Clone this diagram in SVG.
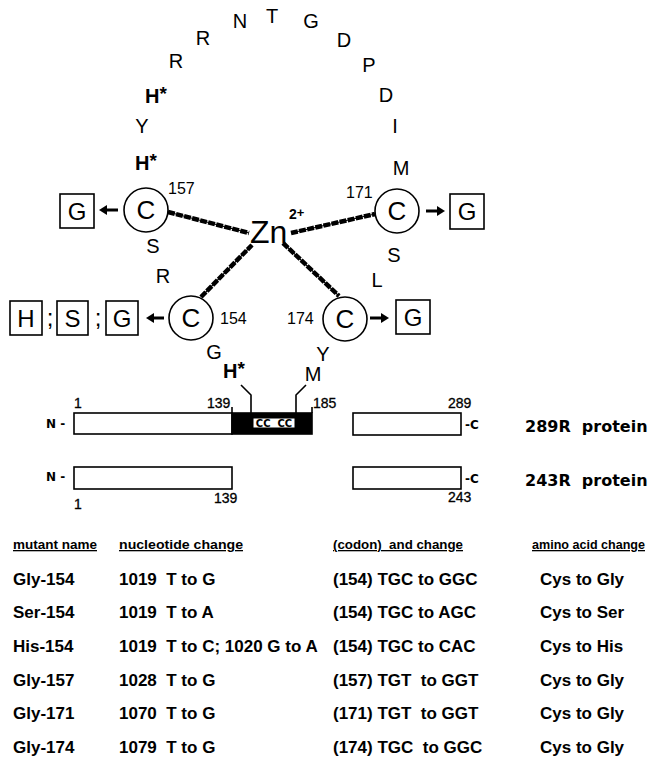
<svg xmlns="http://www.w3.org/2000/svg" width="653" height="768" viewBox="0 0 653 768">
<defs>
<style>
.aa{font-family:"Liberation Sans",Arial,sans-serif;font-size:20px;fill:#000;text-anchor:middle}
.hs{font-family:"Liberation Sans",Arial,sans-serif;font-size:20px;font-weight:bold;fill:#000}
.num{font-family:"Liberation Sans",Arial,sans-serif;font-size:16px;fill:#000}
.cir{fill:#fff;stroke:#000;stroke-width:1.6}
.ct{font-family:"Liberation Sans",Arial,sans-serif;font-size:26px;fill:#000;text-anchor:middle}
.box{fill:#fff;stroke:#000;stroke-width:1.6}
.bt{font-family:"Liberation Sans",Arial,sans-serif;font-size:24px;fill:#000;text-anchor:middle}
.bond{stroke:#000;stroke-width:4.5;stroke-dasharray:7 1.3;fill:none}
.bondc{stroke:#000;stroke-width:1.2;fill:none}
.shaft{stroke:#000;stroke-width:3;fill:none}
.ln{stroke:#000;stroke-width:1.6;fill:none}
.pn{font-family:"Liberation Sans",Arial,sans-serif;font-size:14px;fill:#000;stroke:#000;stroke-width:0.3}
.pl{font-family:"DejaVu Sans",sans-serif;font-size:16px;font-weight:bold;fill:#000;white-space:pre}
.nc{font-family:"DejaVu Sans",sans-serif;font-size:12px;font-weight:bold;fill:#000;white-space:pre}
.th{font-family:"Liberation Sans",Arial,sans-serif;font-size:13px;font-weight:bold;fill:#000;text-decoration:underline;white-space:pre}
.td{font-family:"Liberation Sans",Arial,sans-serif;font-size:17px;font-weight:bold;fill:#000;white-space:pre}
</style>
</defs>
<rect width="653" height="768" fill="#fff"/>

<g id="loop-residues">
<text class="aa" x="240" y="28">N</text>
<text class="aa" x="272" y="23">T</text>
<text class="aa" x="311" y="28">G</text>
<text class="aa" x="203" y="45">R</text>
<text class="aa" x="344" y="47">D</text>
<text class="aa" x="176" y="68">R</text>
<text class="aa" x="369" y="72">P</text>
<text class="hs" x="145" y="103">H<tspan font-size="19" dy="-3">*</tspan></text>
<text class="aa" x="386" y="102">D</text>
<text class="aa" x="142" y="133">Y</text>
<text class="aa" x="395" y="133">I</text>
<text class="hs" x="135" y="170">H<tspan font-size="19" dy="-3">*</tspan></text>
<text class="aa" x="401" y="175">M</text>
<text class="aa" x="153" y="253">S</text>
<text class="aa" x="163" y="283">R</text>
<text class="aa" x="394" y="262">S</text>
<text class="aa" x="377" y="287">L</text>
<text class="aa" x="214" y="359">G</text>
<text class="aa" x="323" y="361">Y</text>
<text class="hs" x="223" y="378">H<tspan font-size="19" dy="-3">*</tspan></text>
<text class="aa" x="313" y="381">M</text>
</g>

<g id="connectors">
<line class="bond" x1="168" y1="212" x2="249" y2="233"/>
<line class="bondc" x1="168" y1="212" x2="249" y2="233"/>
<line class="bond" x1="291" y1="233" x2="375" y2="214"/>
<line class="bondc" x1="291" y1="233" x2="375" y2="214"/>
<line class="bond" x1="201" y1="297" x2="252" y2="245"/>
<line class="bondc" x1="201" y1="297" x2="252" y2="245"/>
<line class="bond" x1="283" y1="243" x2="339" y2="296"/>
<line class="bondc" x1="283" y1="243" x2="339" y2="296"/>
<line class="shaft" x1="118" y1="210" x2="104" y2="210"/>
<polygon points="99,210 107,205 107,215" fill="#000"/>
<line class="shaft" x1="426" y1="211" x2="440" y2="211"/>
<polygon points="445,211 437,206 437,216" fill="#000"/>
<line class="shaft" x1="164" y1="318" x2="151" y2="318"/>
<polygon points="146,318 154,313 154,323" fill="#000"/>
<line class="shaft" x1="370" y1="318" x2="384" y2="318"/>
<polygon points="389,318 381,313 381,323" fill="#000"/>
<polyline class="ln" points="241,385 251,395 251,413"/>
<polyline class="ln" points="306,385 296,395 296,413"/>
<line class="ln" x1="232" y1="407" x2="232" y2="413"/>
<line class="ln" x1="312" y1="407" x2="312" y2="413"/>
</g>

<g id="zn">
<text x="250" y="243" font-family="Liberation Sans, Arial, sans-serif" font-size="32">Zn</text>
<text x="289" y="219" font-family="Liberation Sans, Arial, sans-serif" font-size="14" font-weight="bold">2<tspan font-size="13" dy="-2">+</tspan></text>
</g>

<g id="cys157">
<circle class="cir" cx="146" cy="210" r="22"/>
<text class="ct" x="146" y="219">C</text>
<text class="num" x="168" y="194">157</text>
</g>
<g id="cys171">
<circle class="cir" cx="397" cy="211" r="22"/>
<text class="ct" x="397" y="220">C</text>
<text class="num" x="346" y="198">171</text>
</g>
<g id="cys154">
<circle class="cir" cx="191" cy="318" r="22"/>
<text class="ct" x="191" y="327">C</text>
<text class="num" x="220" y="324">154</text>
</g>
<g id="cys174">
<circle class="cir" cx="345" cy="319" r="22"/>
<text class="ct" x="345" y="328">C</text>
<text class="num" x="287" y="324">174</text>
</g>

<g id="mut157">
<rect class="box" x="60" y="194" width="34" height="34"/>
<text class="bt" x="77" y="220">G</text>
</g>
<g id="mut171">
<rect class="box" x="450" y="194" width="34" height="35"/>
<text class="bt" x="467" y="220">G</text>
</g>
<g id="mut174">
<rect class="box" x="396" y="300" width="34" height="34"/>
<text class="bt" x="413" y="326">G</text>
</g>
<g id="mut154">
<rect class="box" x="10" y="301" width="32" height="34"/>
<text class="bt" x="26" y="327">H</text>
<text class="bt" x="50" y="326">;</text>
<rect class="box" x="57" y="301" width="31" height="34"/>
<text class="bt" x="72.5" y="327">S</text>
<text class="bt" x="98" y="326">;</text>
<rect class="box" x="106" y="301" width="32" height="34"/>
<text class="bt" x="122" y="327">G</text>
</g>

<g id="protein289R">
<text class="nc" x="46" y="428">N -</text>
<rect class="box" x="74" y="413" width="158" height="21"/>
<rect x="232" y="413" width="80" height="21" fill="#000" stroke="#000" stroke-width="1.6"/>
<rect x="253" y="418" width="42" height="10" fill="#fff" stroke="#000" stroke-width="1"/>
<text x="274" y="427" font-family="DejaVu Sans, sans-serif" font-size="10" font-weight="bold" text-anchor="middle" style="white-space:pre">CC  CC</text>
<rect class="box" x="353" y="413" width="108" height="22"/>
<text class="nc" x="465" y="429">-C</text>
<text class="pn" x="74" y="408">1</text>
<text class="pn" x="207" y="408">139</text>
<text class="pn" x="313" y="408">185</text>
<text class="pn" x="448" y="408">289</text>
<text class="pl" x="525" y="432">289R  protein</text>
</g>

<g id="protein243R">
<text class="nc" x="46" y="481">N -</text>
<rect class="box" x="74" y="467" width="158" height="22"/>
<rect class="box" x="353" y="467" width="108" height="22"/>
<text class="nc" x="465" y="483">-C</text>
<text class="pn" x="74" y="509">1</text>
<text class="pn" x="214" y="503">139</text>
<text class="pn" x="448" y="502">243</text>
<text class="pl" x="525" y="486">243R  protein</text>
</g>

<g id="table">
<text class="th" x="13" y="549" textLength="84" lengthAdjust="spacingAndGlyphs">mutant name</text>
<text class="th" x="119" y="549" textLength="124" lengthAdjust="spacingAndGlyphs">nucleotide change</text>
<text class="th" x="333" y="549" textLength="130" lengthAdjust="spacingAndGlyphs">(codon)  and change</text>
<text class="th" x="532" y="549" textLength="113" lengthAdjust="spacingAndGlyphs">amino acid change</text>

<text class="td" x="13" y="585">Gly-154</text>
<text class="td" x="119" y="585">1019  T to G</text>
<text class="td" x="333" y="585">(154) TGC to GGC</text>
<text class="td" x="540" y="585">Cys to Gly</text>

<text class="td" x="13" y="618">Ser-154</text>
<text class="td" x="119" y="618">1019  T to A</text>
<text class="td" x="333" y="618">(154) TGC to AGC</text>
<text class="td" x="540" y="618">Cys to Ser</text>

<text class="td" x="13" y="652">His-154</text>
<text class="td" x="119" y="652">1019  T to C; 1020 G to A</text>
<text class="td" x="333" y="652">(154) TGC to CAC</text>
<text class="td" x="540" y="652">Cys to His</text>

<text class="td" x="13" y="686">Gly-157</text>
<text class="td" x="119" y="686">1028  T to G</text>
<text class="td" x="333" y="686">(157) TGT  to GGT</text>
<text class="td" x="540" y="686">Cys to Gly</text>

<text class="td" x="13" y="719">Gly-171</text>
<text class="td" x="119" y="719">1070  T to G</text>
<text class="td" x="333" y="719">(171) TGT  to GGT</text>
<text class="td" x="540" y="719">Cys to Gly</text>

<text class="td" x="13" y="753">Gly-174</text>
<text class="td" x="119" y="753">1079  T to G</text>
<text class="td" x="333" y="753">(174) TGC  to GGC</text>
<text class="td" x="540" y="753">Cys to Gly</text>
</g>
</svg>
